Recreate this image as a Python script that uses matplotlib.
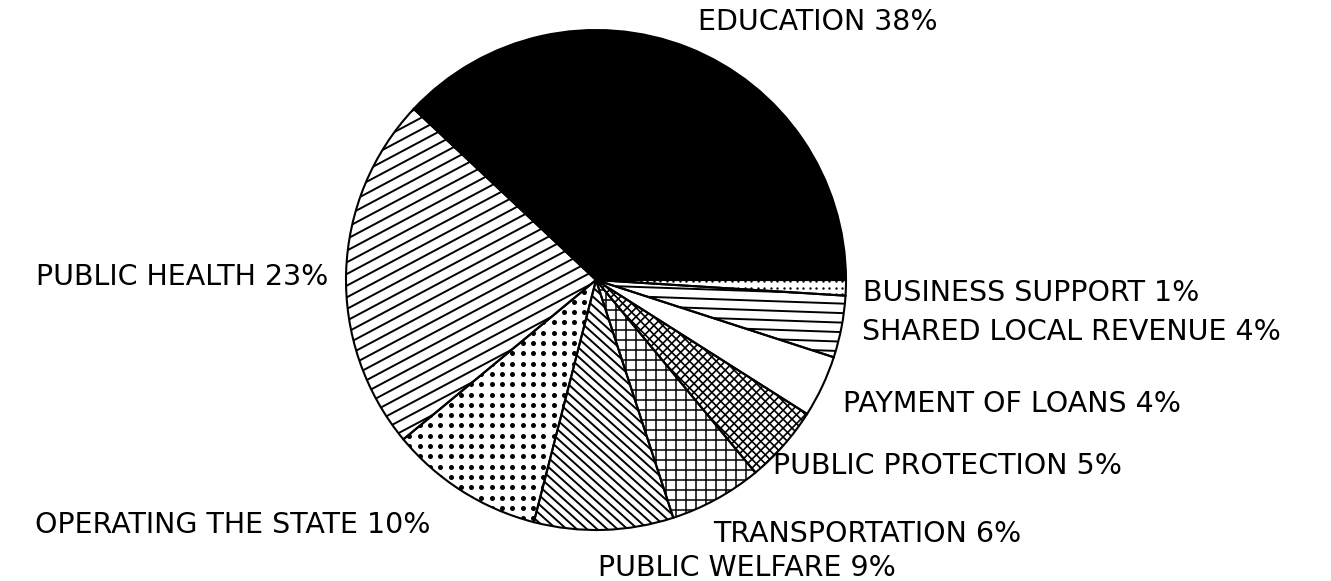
import matplotlib.pyplot as plt
import numpy as np
from matplotlib.collections import LineCollection

labels = ["EDUCATION 38%", "PUBLIC HEALTH 23%", "OPERATING THE STATE 10%",
          "PUBLIC WELFARE 9%", "TRANSPORTATION 6%", "PUBLIC PROTECTION 5%",
          "PAYMENT OF LOANS 4%", "SHARED LOCAL REVENUE 4%", "BUSINESS SUPPORT 1%"]
shares = [38, 23, 10, 9, 6, 5, 4, 4, 1]

W, H = 1331, 581
fig = plt.figure(figsize=(W / 100, H / 100), dpi=100)
ax = fig.add_axes([0, 0, 1, 1])

cx, cy, R = 596, H - 280, 250

wedges, _ = ax.pie(shares, startangle=0, counterclock=True, center=(cx, cy),
                   radius=R, colors=["black"] + ["white"] * 8,
                   wedgeprops=dict(linewidth=0, zorder=1))
# outlines on top of the hatching
ax.pie(shares, startangle=0, counterclock=True, center=(cx, cy), radius=R,
       wedgeprops=dict(fill=False, edgecolor="black", linewidth=1.5, zorder=4))


def hatch_lines(patch, angle, spacing, lw):
    t = np.radians(angle)
    d = np.array([np.cos(t), np.sin(t)])
    n = np.array([-np.sin(t), np.cos(t)])
    c = np.array([cx, cy])
    segs = [[c + o * n - 1.2 * R * d, c + o * n + 1.2 * R * d]
            for o in np.arange(-1.2 * R, 1.2 * R, spacing)]
    lc = LineCollection(segs, colors="black", linewidths=lw, zorder=2)
    ax.add_collection(lc)
    lc.set_clip_path(patch)


def hatch_dots(patch, spacing, size):
    g = np.arange(-1.2 * R, 1.2 * R, spacing)
    xx, yy = np.meshgrid(cx + g, cy + g)
    sc = ax.scatter(xx.ravel(), yy.ravel(), s=size, c="black", linewidths=0, zorder=2)
    sc.set_clip_path(patch)


hatch_lines(wedges[1], 28, 10.3, 1.4)      # public health
hatch_dots(wedges[2], 10.3, 13)            # operating the state
hatch_lines(wedges[3], -42, 6.8, 1.4)      # public welfare
hatch_lines(wedges[4], 0, 10, 1.1)         # transportation
hatch_lines(wedges[4], 90, 10, 1.1)
hatch_lines(wedges[5], 45, 6.3, 1.2)       # public protection
hatch_lines(wedges[5], -45, 6.3, 1.2)
hatch_lines(wedges[7], -2, 9.5, 1.4)       # shared local revenue
hatch_dots(wedges[8], 6.5, 3)              # business support

# label anchors (x, baseline y in image pixels, alignment)
label_pos = [(818, 30, "center"), (328, 285, "right"), (233, 533, "center"),
             (598, 576, "left"), (713, 542, "left"), (773, 474, "left"),
             (843, 412, "left"), (862, 340, "left"), (863, 301, "left")]
for text, (x, y, ha) in zip(labels, label_pos):
    ax.text(x, H - y, text, ha=ha, va="baseline", fontsize=20.5,
            family="DejaVu Sans", color="black")

ax.set_xlim(0, W)
ax.set_ylim(0, H)
ax.set_aspect("auto")
ax.axis("off")
fig.savefig("out.png", dpi=100, facecolor="white")
